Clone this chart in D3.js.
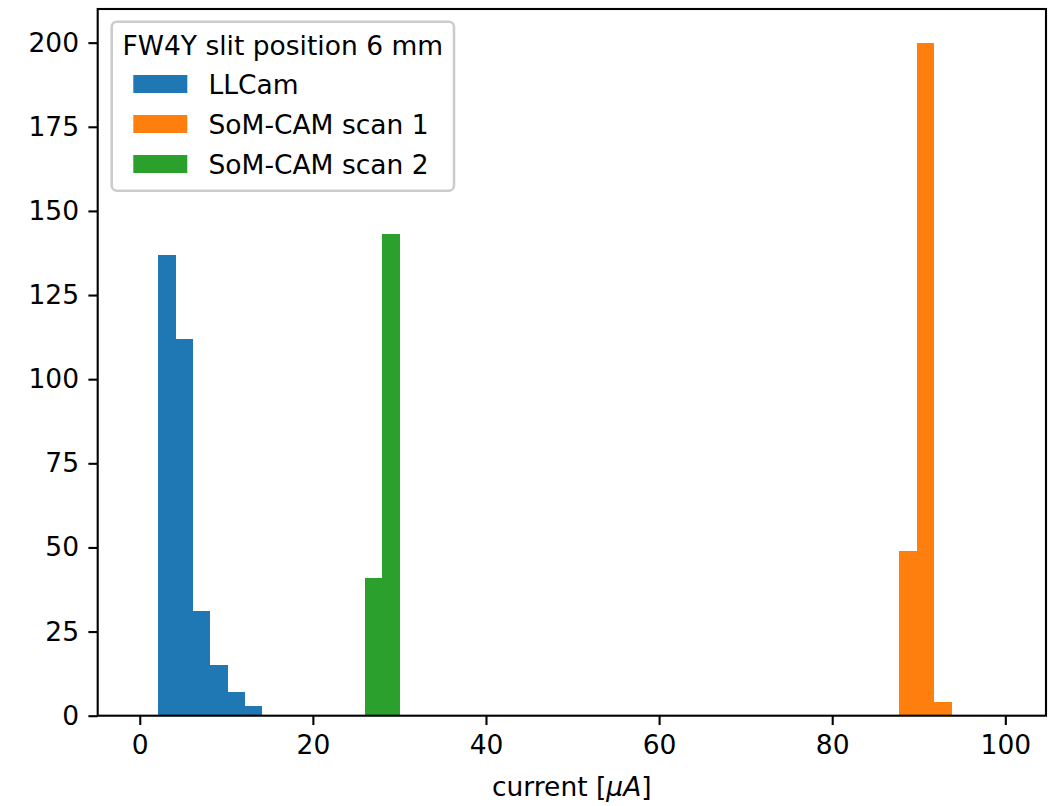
<!DOCTYPE html>
<html>
<head>
<meta charset="utf-8">
<script src="https://cdn.jsdelivr.net/npm/d3@7"></script>
<style>
  html, body { margin: 0; padding: 0; background: #fff; }
  svg text { font-family: "DejaVu Sans", sans-serif; fill: #000; }
</style>
</head>
<body>
<svg id="chart" width="1056" height="806"></svg>
<script>
// Histogram bins shared by all three series
const binStart = 0.12;
const binWidth = 1.992;
const binTotal = 50;

// Counts per series, starting at the given bin index
const llcamFirstBin = 1;
const llcamCounts = [137, 112, 31, 15, 7, 3];
const scan1FirstBin = 44;
const scan1Counts = [49, 200, 4];
const scan2FirstBin = 13;
const scan2Counts = [41, 143];

const seriesNames = ["LLCam", "SoM-CAM scan 1", "SoM-CAM scan 2"];
const seriesColors = ["#1f77b4", "#ff7f0e", "#2ca02c"];

const xTicks = [0, 20, 40, 60, 80, 100];
const yTicks = [0, 25, 50, 75, 100, 125, 150, 175, 200];
const legendTitle = "FW4Y slit position 6 mm";

const fs = 26.5;
const plot = { left: 97.7, right: 1046, top: 9, bottom: 715.7 };

const svg = d3.select("#chart");

// x limits: full bin range padded by 5% on each side
const binEnd = binStart + binTotal * binWidth;
const pad = 0.05 * (binEnd - binStart);
const x = d3.scaleLinear().domain([binStart - pad, binEnd + pad]).range([plot.left, plot.right]);
const y = d3.scaleLinear().domain([0, 210]).range([plot.bottom, plot.top]);

function toBars(firstBin, counts) {
  return counts.map((c, i) => ({
    x0: binStart + (firstBin + i) * binWidth,
    x1: binStart + (firstBin + i + 1) * binWidth,
    count: c
  }));
}

const series = [
  toBars(llcamFirstBin, llcamCounts),
  toBars(scan1FirstBin, scan1Counts),
  toBars(scan2FirstBin, scan2Counts)
];

series.forEach((bars, si) => {
  svg.append("g")
    .attr("shape-rendering", "crispEdges")
    .selectAll("rect")
    .data(bars)
    .join("rect")
    .attr("x", d => x(d.x0))
    .attr("width", d => x(d.x1) - x(d.x0) + 0.5)
    .attr("y", d => y(d.count))
    .attr("height", d => y(0) - y(d.count))
    .attr("fill", seriesColors[si]);
});

// Axes
const tickLen = 9.3;
const xAxis = svg.append("g")
  .attr("transform", `translate(0,${plot.bottom})`)
  .call(d3.axisBottom(x).tickValues(xTicks).tickFormat(d3.format("d")).tickSize(tickLen).tickPadding(10.2));
const yAxis = svg.append("g")
  .attr("transform", `translate(${plot.left},0)`)
  .call(d3.axisLeft(y).tickValues(yTicks).tickFormat(d3.format("d")).tickSize(tickLen).tickPadding(9.3));

[xAxis, yAxis].forEach(g => {
  g.select(".domain").remove();
  g.selectAll(".tick line").attr("stroke", "#000").attr("stroke-width", 2.1);
  g.selectAll(".tick text")
    .attr("fill", "#000")
    .style("font-family", "'DejaVu Sans', sans-serif")
    .style("font-size", fs + "px");
});

// Spines
svg.append("rect")
  .attr("x", plot.left).attr("y", plot.top)
  .attr("width", plot.right - plot.left).attr("height", plot.bottom - plot.top)
  .attr("fill", "none").attr("stroke", "#000").attr("stroke-width", 2.1);

// x label with italic math part
const xl = svg.append("text")
  .attr("x", (plot.left + plot.right) / 2)
  .attr("y", 796)
  .attr("text-anchor", "middle")
  .style("font-size", fs + "px");
xl.append("tspan").text("current [");
xl.append("tspan").style("font-style", "italic").text("\u03bcA");
xl.append("tspan").text("]");

// Legend
const lg = svg.append("g");
lg.append("rect")
  .attr("x", 111.7).attr("y", 21.7)
  .attr("width", 454 - 111.7).attr("height", 190.7 - 21.7)
  .attr("rx", 5.3).attr("ry", 5.3)
  .attr("fill", "#fff").attr("fill-opacity", 0.8)
  .attr("stroke", "#cccccc").attr("stroke-width", 2.6);

lg.append("text")
  .attr("x", 122.5).attr("y", 55)
  .style("font-size", fs + "px")
  .text(legendTitle);

seriesNames.forEach((name, i) => {
  const rowY = 75 + i * 40;
  lg.append("rect")
    .attr("x", 133.3).attr("y", rowY)
    .attr("width", 54).attr("height", 18)
    .attr("fill", seriesColors[i]);
  lg.append("text")
    .attr("x", 208.5).attr("y", rowY + 18.5)
    .style("font-size", fs + "px")
    .text(name);
});
</script>
</body>
</html>
